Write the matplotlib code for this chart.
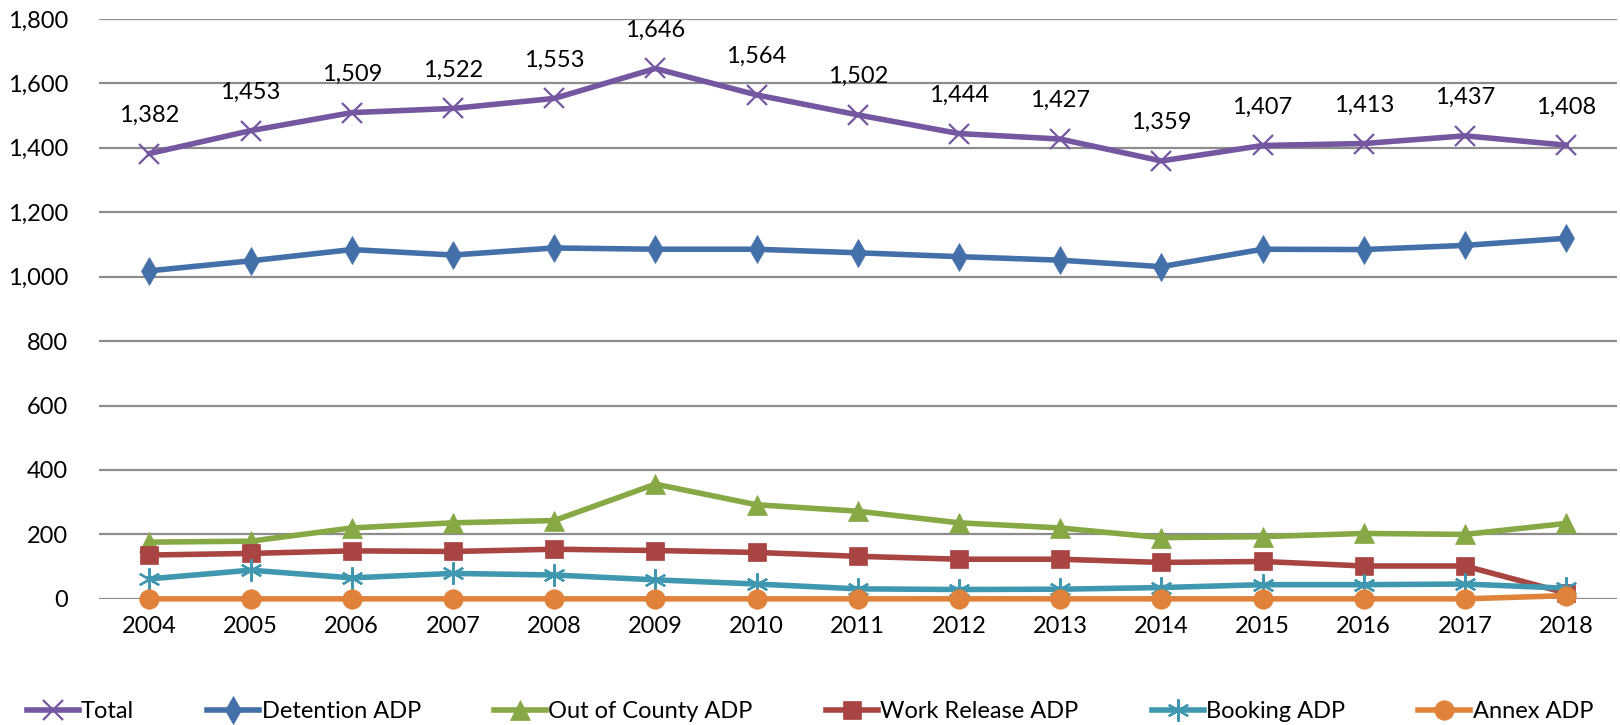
import matplotlib
matplotlib.use("Agg")
import matplotlib.pyplot as plt
import numpy as np

plt.rcParams['font.family'] = ['Lato', 'DejaVu Sans']

years = ['2004', '2005', '2006', '2007', '2008', '2009', '2010', '2011',
         '2012', '2013', '2014', '2015', '2016', '2017', '2018']

total = [1382, 1453, 1509, 1522, 1553, 1646, 1564, 1502, 1444, 1427, 1359, 1407, 1413, 1437, 1408]
detention = [1018, 1049, 1084, 1067, 1089, 1085, 1085, 1074, 1062, 1051, 1031, 1085, 1084, 1097, 1119]
out_of_county = [176, 179, 220, 236, 243, 356, 292, 272, 236, 220, 190, 193, 203, 200, 234]
work_release = [136, 141, 149, 147, 154, 150, 144, 132, 123, 123, 113, 116, 102, 102, 18]
booking = [62, 89, 65, 79, 74, 59, 46, 31, 29, 30, 35, 44, 44, 46, 33]
annex = [0, 0, 0, 0, 0, 0, 0, 0, 0, 0, 0, 0, 0, 0, 10]

# label, values, colour, marker, marker size
series = [
    ('Total', total, '#7556a0', 'x', 14),
    ('Detention ADP', detention, '#4470aa', 'd', 14),
    ('Out of County ADP', out_of_county, '#86a845', '^', 14),
    ('Work Release ADP', work_release, '#a84442', 's', 13),
    ('Booking ADP', booking, '#3f97b0', (6, 2, 0), 16),
    ('Annex ADP', annex, '#e0823a', 'o', 14),
]

fig = plt.figure(figsize=(16.2, 7.25), dpi=100)
ax = fig.add_axes([0.061, 0.174, 0.937, 0.8])

x = np.arange(len(years))
for label, vals, col, mk, ms in series:
    thin = mk in ('x', (6, 2, 0))
    ax.plot(x, vals, color=col, lw=4, marker=mk, ms=ms, mew=1.6 if thin else 0.5,
            mec=col, mfc=col, label=label, solid_joinstyle='round',
            clip_on=False, zorder=3)

for xi, v in zip(x, total):
    ax.annotate(f'{v:,}', (xi, v), xytext=(0, 20), textcoords='offset points',
                ha='center', va='bottom', fontsize=17)

ax.set_xlim(-0.5, len(years) - 0.5)
ax.set_ylim(0, 1800)
ax.set_yticks(np.arange(0, 1801, 200))
ax.set_yticklabels([f'{t:,}' for t in range(0, 1801, 200)], fontsize=17)
ax.set_xticks(x)
ax.set_xticklabels(years, fontsize=17)
ax.tick_params(length=0, pad=12)
ax.tick_params(axis='y', pad=22)
ax.grid(axis='y', color='#8c8c8c', lw=1.6)
ax.set_axisbelow(True)
for s in ax.spines.values():
    s.set_visible(False)

fig.legend(loc='lower center', bbox_to_anchor=(0.5, -0.025), ncol=6, frameon=False,
           fontsize=17, columnspacing=3.1, handlelength=2.2, handletextpad=0.1)

fig.savefig('out.png', dpi=100)
